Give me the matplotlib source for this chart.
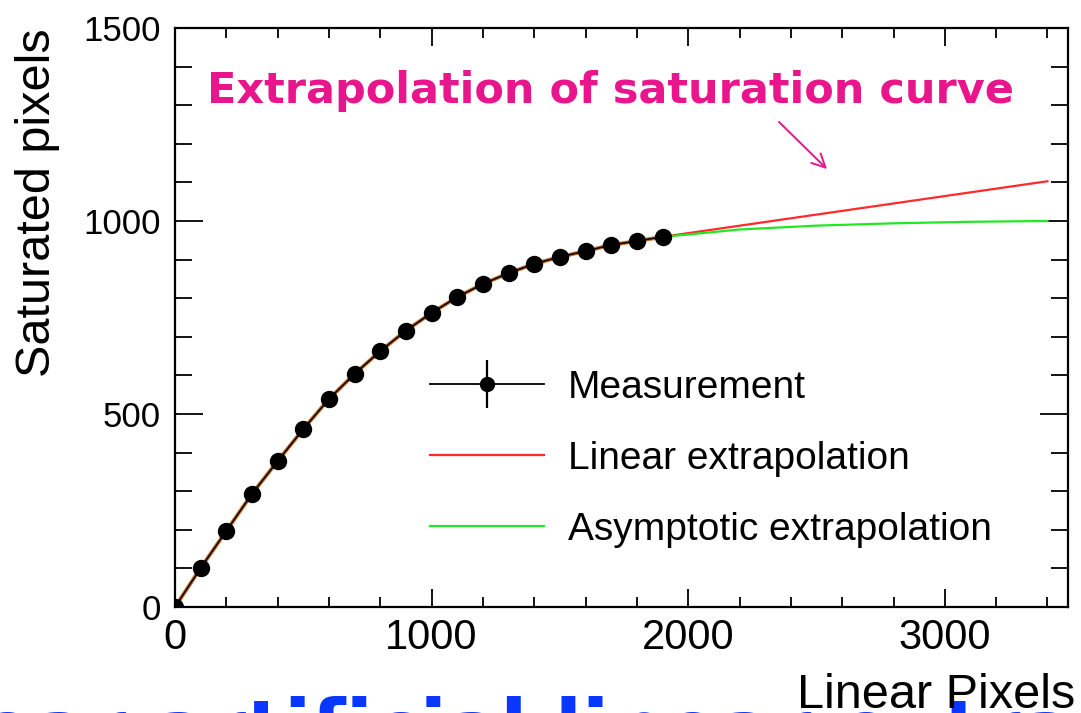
import matplotlib
matplotlib.use("Agg")
import matplotlib.pyplot as plt
from matplotlib.lines import Line2D
from matplotlib.legend_handler import HandlerTuple
from matplotlib.ticker import MultipleLocator

# measured saturation curve
linear_px = [0, 100, 200, 300, 400, 500, 600, 700, 800, 900,
             1000, 1100, 1200, 1300, 1400, 1500, 1600, 1700, 1800, 1900]
saturated_px = [0, 101, 197, 293, 378, 461, 539, 604, 663, 716,
                762, 803, 837, 865, 889, 907, 922, 938, 948, 959]

# extrapolations beyond the last measured point
lin_x = [1900, 3400]
lin_y = [959, 1103]
asym_x = [1900, 2000, 2200, 2500, 2800, 3100, 3400]
asym_y = [959, 965, 978, 988, 994, 998, 1000]

W, H = 1081, 713
fig = plt.figure(figsize=(W / 100, H / 100), dpi=100)
ax = fig.add_axes([175 / W, 1 - 607 / H, (1068 - 175) / W, (607 - 28) / H])

FONT = "Liberation Sans"

ax.plot(lin_x, lin_y, color="#ff2a2a", lw=1.6, zorder=2)
ax.plot(asym_x, asym_y, color="#22e822", lw=1.6, zorder=2)
ax.plot(linear_px, saturated_px, color="#c8702a", lw=2.8, zorder=3)
ax.plot(linear_px, saturated_px, color="black", lw=1.1, marker="o",
        markersize=11.5, zorder=4)

ax.set_xlim(0, 3480)
ax.set_ylim(0, 1500)
ax.xaxis.set_major_locator(MultipleLocator(1000))
ax.xaxis.set_minor_locator(MultipleLocator(200))
ax.yaxis.set_major_locator(MultipleLocator(500))
ax.yaxis.set_minor_locator(MultipleLocator(100))

ax.tick_params(axis="both", which="both", direction="in", top=True, right=True,
               width=1.3, color="black")
ax.tick_params(axis="x", which="major", length=13, pad=8)
ax.tick_params(axis="x", which="minor", length=7)
ax.tick_params(axis="y", which="major", length=20, pad=10)
ax.tick_params(axis="y", which="minor", length=12)
for lab in ax.get_xticklabels():
    lab.set_fontfamily(FONT)
    lab.set_fontsize(30)
for lab in ax.get_yticklabels():
    lab.set_fontfamily(FONT)
    lab.set_fontsize(25)
for sp in ax.spines.values():
    sp.set_linewidth(1.6)

# axis titles, ROOT style (flush to the axis ends)
fig.text(38 / W, 1 - 28 / H, "Saturated pixels", rotation=90, ha="center",
         va="top", fontsize=35, family=FONT)
fig.text(1075 / W, 1 - 708 / H, "Linear Pixels", ha="right", va="baseline",
         fontsize=35, family=FONT, zorder=5)

# legend
meas_handle = (Line2D([], [], color="black", lw=1.3, marker="o", markersize=10),
               Line2D([], [], color="black", lw=0, marker="|", markersize=34,
                      markeredgewidth=1.6))
handles = [meas_handle,
           Line2D([], [], color="#ff2a2a", lw=1.6),
           Line2D([], [], color="#22e822", lw=1.6)]
labels = ["Measurement", "Linear extrapolation", "Asymptotic extrapolation"]
ax.legend(handles, labels, handler_map={tuple: HandlerTuple(ndivide=1)},
          loc="upper left", bbox_to_anchor=(0.285, 0.41), frameon=False,
          prop={"family": FONT, "size": 28}, handlelength=2.95,
          handletextpad=0.6, labelspacing=0.9, borderpad=0, borderaxespad=0)

# annotation
pink = "#e8158c"
ax.text(207 / W, 1 - 103 / H, "Extrapolation of saturation curve",
        transform=fig.transFigure, color=pink, fontsize=31, weight="bold",
        family="DejaVu Sans", va="baseline", ha="left")
ax.annotate("", xy=(829 / W, 1 - 171 / H), xytext=(777 / W, 1 - 120 / H),
            xycoords="figure fraction", textcoords="figure fraction",
            arrowprops=dict(arrowstyle="->", color=pink, lw=1.4,
                            mutation_scale=24))

# caption running off the bottom of the figure
caption = "Nonlinear artificial linear extrapolation"
cap_kw = dict(fontsize=57, weight="bold", family="DejaVu Sans", color="#0a37ff")
fig.canvas.draw()
renderer = fig.canvas.get_renderer()
probe = fig.text(0, 0, "Nonlin", **cap_kw)
shift = probe.get_window_extent(renderer).width
probe.remove()
fig.text((-20 - shift) / W, -43 / H, caption, ha="left", va="baseline",
         zorder=4, **cap_kw)

fig.savefig("out.png", dpi=100, facecolor="white")
plt.close(fig)
